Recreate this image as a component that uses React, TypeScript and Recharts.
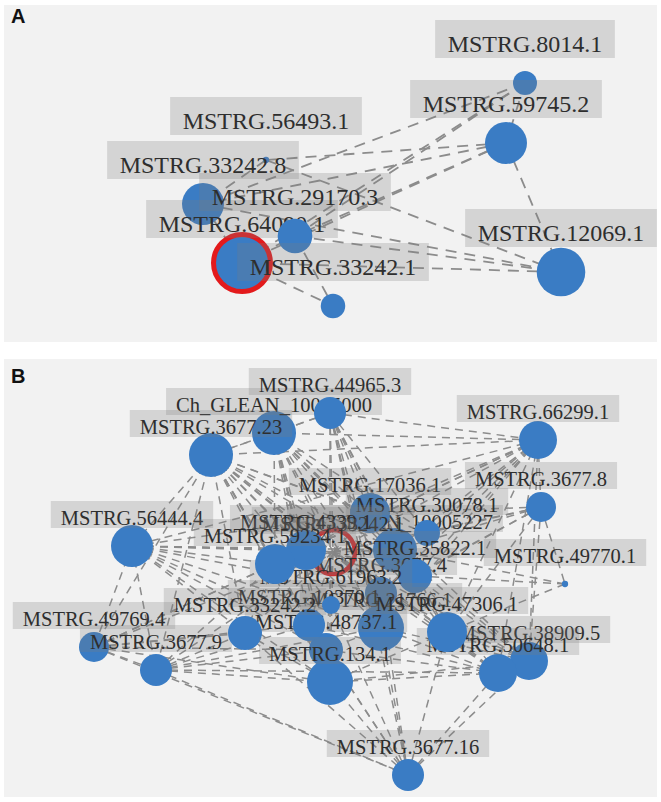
import { ScatterChart, Scatter, XAxis, YAxis } from "recharts";

type GeneNode = { id: string; label: string; x: number; y: number; w: number; hub?: boolean };

const BLUE = "#3a7cc4";
const RED = "#e31a1c";
const EDGE = "#8c8c8c";

// network A: layout coordinates + node weight (area ~ w)
const nodesA: GeneNode[] = [
  { id: "a1", label: "MSTRG.8014.1", x: 525, y: 83, w: 144 },
  { id: "a2", label: "MSTRG.59745.2", x: 506, y: 143, w: 441 },
  { id: "a3", label: "MSTRG.56493.1", x: 266, y: 160, w: 10 },
  { id: "a4", label: "MSTRG.33242.8", x: 203, y: 204, w: 441 },
  { id: "a6", label: "MSTRG.64090.1", x: 242, y: 263, w: 812, hub: true },
  { id: "a5", label: "MSTRG.29170.3", x: 295, y: 236, w: 300 },
  { id: "a8", label: "MSTRG.33242.1", x: 333, y: 306, w: 150 },
  { id: "a7", label: "MSTRG.12069.1", x: 561, y: 272, w: 590 },
];

const edgesA: [string, string][] = [
  ["a1", "a2"], ["a1", "a4"], ["a1", "a5"], ["a1", "a6"],
  ["a2", "a7"], ["a2", "a6"], ["a2", "a5"], ["a2", "a4"], ["a2", "a3"],
  ["a3", "a7"], ["a4", "a7"], ["a5", "a7"], ["a6", "a7"],
  ["a6", "a5"], ["a6", "a8"], ["a5", "a8"], ["a4", "a6"], ["a3", "a4"],
];

// network B
const nodesB: GeneNode[] = [
  { id: "b2", label: "Ch_GLEAN_10045000", x: 274, y: 433, w: 484 },
  { id: "b3", label: "MSTRG.3677.23", x: 211, y: 455, w: 484 },
  { id: "b1", label: "MSTRG.44965.3", x: 330, y: 413, w: 256 },
  { id: "b4", label: "MSTRG.66299.1", x: 538, y: 440, w: 361 },
  { id: "b5", label: "MSTRG.3677.8", x: 541, y: 507, w: 225 },
  { id: "b6", label: "MSTRG.56444.4", x: 132, y: 546, w: 441 },
  { id: "b7", label: "MSTRG.49770.1", x: 565, y: 584, w: 10 },
  { id: "b8", label: "MSTRG.49769.4", x: 94, y: 647, w: 225 },
  { id: "b9", label: "MSTRG.3677.9", x: 156, y: 670, w: 256 },
  { id: "b10", label: "MSTRG.3677.16", x: 408, y: 775, w: 256 },
  { id: "b11", label: "MSTRG.38909.5", x: 529, y: 661, w: 361 },
  { id: "b12", label: "MSTRG.50648.1", x: 498, y: 673, w: 361 },
  { id: "c3", label: "Ch_GLEAN_10005227", x: 395, y: 550, w: 484 },
  { id: "c1", label: "MSTRG.17036.1", x: 370, y: 513, w: 400 },
  { id: "c2", label: "MSTRG.30078.1", x: 427, y: 533, w: 169 },
  { id: "c5", label: "MSTRG.33242.1", x: 333, y: 552, w: 484, hub: true },
  { id: "c8", label: "MSTRG.3677.4", x: 381, y: 593, w: 256 },
  { id: "c7", label: "MSTRG.35822.1", x: 415, y: 576, w: 289 },
  { id: "c12", label: "MSTRG.21766.1", x: 381, y: 628, w: 529 },
  { id: "c14", label: "MSTRG.48737.1", x: 326, y: 650, w: 289 },
  { id: "c10", label: "MSTRG.10370.1", x: 309, y: 625, w: 256 },
  { id: "c11", label: "MSTRG.33242.2", x: 245, y: 633, w: 289 },
  { id: "c13", label: "MSTRG.47306.1", x: 447, y: 632, w: 400 },
  { id: "c9", label: "MSTRG.61963.2", x: 331, y: 605, w: 81 },
  { id: "c4", label: "MSTRG.4339.1", x: 306, y: 550, w: 400 },
  { id: "c6", label: "MSTRG.59234.1", x: 275, y: 564, w: 400 },
  { id: "c15", label: "MSTRG.134.1", x: 330, y: 682, w: 529 },
];

const edgesB: [string, string][] = [
  ["b1", "c1"], ["b1", "c2"], ["b1", "c3"], ["b1", "c5"], ["b1", "c7"], ["b1", "c8"], ["b1", "c12"],
  ["b1", "c13"], ["b1", "c15"], ["b1", "b2"], ["b1", "b3"], ["b1", "b4"], ["b1", "b10"],
  ["b2", "c1"], ["b2", "c2"], ["b2", "c3"], ["b2", "c4"], ["b2", "c5"], ["b2", "c6"], ["b2", "c7"],
  ["b2", "c8"], ["b2", "c10"], ["b2", "c12"], ["b2", "c13"], ["b2", "c14"], ["b2", "c15"],
  ["b2", "b3"], ["b2", "b4"],
  ["b3", "c1"], ["b3", "c2"], ["b3", "c3"], ["b3", "c4"], ["b3", "c5"], ["b3", "c6"], ["b3", "c7"],
  ["b3", "c8"], ["b3", "c9"], ["b3", "c10"], ["b3", "c11"], ["b3", "c12"], ["b3", "c13"],
  ["b3", "c14"], ["b3", "c15"], ["b3", "b4"], ["b3", "b6"], ["b3", "b8"], ["b3", "b9"],
  ["b4", "c1"], ["b4", "c2"], ["b4", "c3"], ["b4", "c4"], ["b4", "c5"], ["b4", "c6"], ["b4", "c7"],
  ["b4", "c8"], ["b4", "c12"], ["b4", "c13"], ["b4", "b5"], ["b4", "b11"], ["b4", "b12"], ["b4", "b6"],
  ["b5", "c1"], ["b5", "c2"], ["b5", "c3"], ["b5", "c5"], ["b5", "c7"], ["b5", "c8"], ["b5", "c13"],
  ["b5", "b7"], ["b5", "b11"],
  ["b6", "c1"], ["b6", "c3"], ["b6", "c4"], ["b6", "c5"], ["b6", "c6"], ["b6", "c8"], ["b6", "c10"],
  ["b6", "c11"], ["b6", "c12"], ["b6", "c14"], ["b6", "c15"], ["b6", "b8"], ["b6", "b9"],
  ["b7", "c3"], ["b7", "c7"], ["b7", "c13"],
  ["b8", "c4"], ["b8", "c5"], ["b8", "c6"], ["b8", "c10"], ["b8", "c11"], ["b8", "c14"], ["b8", "c15"],
  ["b8", "b9"], ["b8", "b10"],
  ["b9", "c5"], ["b9", "c6"], ["b9", "c10"], ["b9", "c11"], ["b9", "c12"], ["b9", "c14"], ["b9", "c15"],
  ["b9", "b10"], ["b9", "b12"],
  ["b10", "c8"], ["b10", "c9"], ["b10", "c10"], ["b10", "c11"], ["b10", "c12"], ["b10", "c13"],
  ["b10", "c14"], ["b10", "c15"], ["b10", "b11"], ["b10", "b12"],
  ["b11", "c1"], ["b11", "c3"], ["b11", "c5"], ["b11", "c7"], ["b11", "c8"], ["b11", "c12"],
  ["b11", "c13"], ["b11", "c15"], ["b11", "b12"],
  ["b12", "c3"], ["b12", "c5"], ["b12", "c8"], ["b12", "c10"], ["b12", "c12"], ["b12", "c13"],
  ["b12", "c14"], ["b12", "c15"],
  ["c5", "c1"], ["c5", "c2"], ["c5", "c3"], ["c5", "c4"], ["c5", "c6"], ["c5", "c7"], ["c5", "c8"],
  ["c5", "c10"], ["c5", "c11"], ["c5", "c12"], ["c5", "c13"], ["c5", "c14"], ["c5", "c15"],
  ["c3", "c1"], ["c3", "c7"], ["c3", "c12"], ["c3", "c13"],
  ["c1", "c4"], ["c6", "c11"], ["c12", "c14"], ["c13", "c15"], ["c10", "c14"], ["c11", "c15"],
];

type PanelStyle = {
  fontSize: number;
  padX: number;
  boxH: number;
  boxOffset: number;
  baseOffset: number;
  ringWidth: number;
  hubFill: string;
  dash: string;
  edgeWidth: number;
};

const styleA: PanelStyle = {
  fontSize: 24, padX: 12.5, boxH: 38, boxOffset: 44, baseOffset: 31,
  ringWidth: 5, hubFill: BLUE, dash: "11 8", edgeWidth: 1.8,
};
const styleB: PanelStyle = {
  fontSize: 20.5, padX: 10, boxH: 27, boxOffset: 31.5, baseOffset: 21.5,
  ringWidth: 4.5, hubFill: "none", dash: "8 6", edgeWidth: 1.5,
};

const FONT = '"Liberation Serif", "Times New Roman", serif';

let ctx: CanvasRenderingContext2D | null = null;
const textWidth = (s: string, size: number) => {
  if (!ctx) ctx = document.createElement("canvas").getContext("2d");
  if (!ctx) return s.length * size * 0.5;
  ctx.font = `${size}px "Liberation Serif"`;
  return ctx.measureText(s).width;
};

const nodeShape = (st: PanelStyle) => (props: any) => {
  const { cx, cy, payload } = props;
  const r = Math.sqrt(payload.w);
  const bw = textWidth(payload.label, st.fontSize) + st.padX * 2;
  return (
    <g>
      {payload.hub ? (
        <circle cx={cx} cy={cy} r={r} fill={st.hubFill} stroke={RED} strokeWidth={st.ringWidth} />
      ) : (
        <circle cx={cx} cy={cy} r={r} fill={BLUE} />
      )}
      <rect
        x={cx - bw / 2}
        y={cy - st.boxOffset - st.boxH / 2}
        width={bw}
        height={st.boxH}
        fill="#7a7a7a"
        fillOpacity={0.25}
      />
      <text
        x={cx}
        y={cy - st.baseOffset}
        textAnchor="middle"
        fontFamily={FONT}
        fontSize={st.fontSize}
        fill="#2e2e2e"
      >
        {payload.label}
      </text>
    </g>
  );
};

const Network = ({
  nodes,
  edges,
  st,
  top,
  height,
}: {
  nodes: GeneNode[];
  edges: [string, string][];
  st: PanelStyle;
  top: number;
  height: number;
}) => {
  const byId: Record<string, GeneNode> = {};
  nodes.forEach((n) => (byId[n.id] = n));
  return (
    <div style={{ position: "absolute", left: 0, top }}>
      <ScatterChart width={661} height={height} margin={{ top: 0, right: 0, bottom: 0, left: 0 }}>
        <XAxis type="number" dataKey="x" domain={[0, 661]} hide allowDataOverflow />
        <YAxis type="number" dataKey="y" domain={[top, top + height]} reversed hide allowDataOverflow />
        {edges.map(([s, t], i) => (
          <Scatter
            key={`e-${i}`}
            data={[byId[s], byId[t]]}
            line={{ stroke: EDGE, strokeWidth: st.edgeWidth, strokeDasharray: st.dash }}
            shape={() => <g />}
            legendType="none"
            isAnimationActive={false}
          />
        ))}
        <Scatter data={nodes} shape={nodeShape(st)} legendType="none" isAnimationActive={false} />
      </ScatterChart>
    </div>
  );
};

const letterStyle: React.CSSProperties = {
  position: "absolute",
  left: 11,
  fontFamily: '"Liberation Sans", Arial, sans-serif',
  fontWeight: 700,
  fontSize: 20,
  lineHeight: "20px",
  color: "#111",
};

export default function App() {
  return (
    <div style={{ position: "absolute", left: 0, top: 0, width: 661, height: 802, background: "#fff", overflow: "hidden" }}>
      <div style={{ position: "absolute", left: 4, top: 5, width: 653, height: 337, background: "#f2f2f2" }} />
      <div style={{ position: "absolute", left: 4, top: 359, width: 653, height: 438, background: "#f2f2f2" }} />
      <Network nodes={nodesA} edges={edgesA} st={styleA} top={0} height={350} />
      <Network nodes={nodesB} edges={edgesB} st={styleB} top={350} height={452} />
      <div style={{ ...letterStyle, top: 6 }}>A</div>
      <div style={{ ...letterStyle, top: 366 }}>B</div>
    </div>
  );
}
